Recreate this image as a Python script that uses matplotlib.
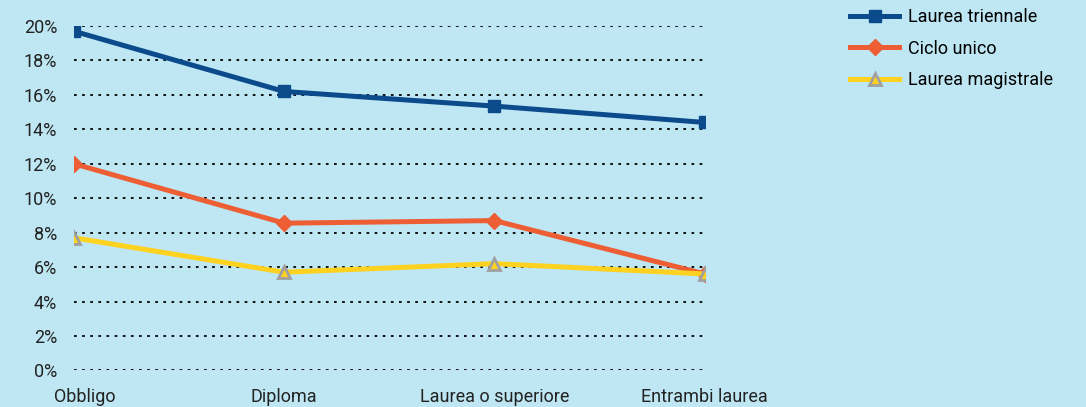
import numpy as np
import matplotlib.pyplot as plt
import matplotlib.transforms as mtransforms
from matplotlib.ticker import FuncFormatter

plt.rcParams['font.family'] = ['Roboto', 'DejaVu Sans']

categories = ["Obbligo", "Diploma", "Laurea o superiore", "Entrambi laurea"]
triennale = [19.7, 16.2, 15.35, 14.4]
ciclo_unico = [12.0, 8.55, 8.7, 5.6]
magistrale = [7.7, 5.7, 6.2, 5.6]

bg = "#BEE7F3"
fig = plt.figure(figsize=(10.86, 4.07), dpi=100, facecolor=bg)
ax = fig.add_axes([0.068, 0.09, 0.581, 0.846], facecolor=bg)

x = np.arange(len(categories))
ax.plot(x, triennale, color="#0B4A8B", lw=3.6, marker="s", ms=8,
        label="Laurea triennale", zorder=3)
ax.plot(x, ciclo_unico, color="#EE5E35", lw=3.6, marker="D", ms=8,
        label="Ciclo unico", zorder=3)
ax.plot(x, magistrale, color="#FFD21F", lw=3.6, marker="^", ms=9,
        markerfacecolor="#FFD21F", markeredgecolor="#A0A0A0", mew=2,
        label="Laurea magistrale", zorder=3)

ax.set_xlim(0, 3)
ax.set_ylim(0, 20)
ax.set_yticks(np.arange(0, 21, 2))
ax.yaxis.set_major_formatter(FuncFormatter(lambda v, p: f"{v:.0f}%"))
ax.set_xticks(x)
ax.set_xticklabels(categories)
ax.grid(axis="y", color="black", linestyle=(0, (1.5, 3)), lw=1.3, zorder=1)
for s in ax.spines.values():
    s.set_visible(False)
ax.tick_params(length=0, labelsize=13, colors="#222222")
ax.tick_params(axis="y", pad=12)
ax.tick_params(axis="x", pad=13)

# first category label sits a little to the right of its point
first = ax.get_xticklabels()[0]
first.set_transform(first.get_transform() +
                    mtransforms.ScaledTranslation(11 / 100, 0, fig.dpi_scale_trans))

fig.legend(loc="upper left", bbox_to_anchor=(0.768, 1.02), frameon=False,
           fontsize=13, handlelength=2.7, handletextpad=0.5, labelspacing=0.75)

fig.savefig("out.png", dpi=100, facecolor=bg)
